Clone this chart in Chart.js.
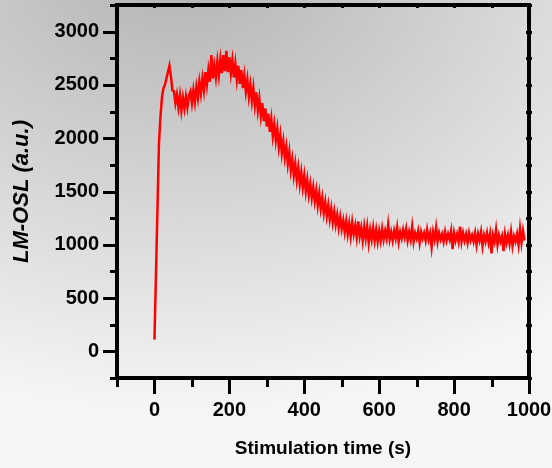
<!DOCTYPE html>
<html><head><meta charset="utf-8">
<script src="https://cdn.jsdelivr.net/npm/chart.js@4.4.1/dist/chart.umd.min.js"></script>
<style>html,body{margin:0;padding:0;background:#f4f4f4;overflow:hidden}#c{display:block}</style>
</head><body>
<canvas id="c" width="552" height="468"></canvas>
<script>
// Sampling interval of the LM-OSL record (seconds)
const STEP_S = 4;
// LM-OSL signal (a.u.), one value every STEP_S seconds from t = 0
const signal = [
 110, 720, 1330, 1950, 2200, 2380, 2470, 2500, 2560, 2620,
 2680, 2580, 2450, 2440, 2330, 2410, 2290, 2400, 2260, 2380,
 2280, 2390, 2290, 2400,
 2440, 2330, 2450, 2340, 2480, 2380, 2530, 2420, 2560, 2450,
 2620, 2500, 2640, 2530, 2780, 2560, 2680, 2570, 2720, 2590,
 2740, 2610, 2780, 2630, 2820, 2620, 2760, 2610, 2730, 2570,
 2700, 2550, 2680, 2510, 2640, 2470, 2590, 2440, 2550, 2390,
 2500, 2350, 2470, 2310, 2430, 2260, 2370, 2210, 2330, 2160,
 2280, 2110, 2230, 2060, 2180, 2020, 2130, 1980, 2090, 1920,
 2030, 1860, 1970, 1820, 1920, 1760, 1870, 1700, 1800, 1650,
 1760, 1610, 1720, 1570, 1680, 1540, 1650, 1500, 1610, 1470,
 1570, 1440, 1540, 1410, 1510, 1370, 1480, 1340, 1440, 1300,
 1400, 1270, 1370, 1240, 1340, 1210, 1310, 1190, 1280, 1160,
 1260, 1150,
 1230, 1120, 1220, 1100, 1200, 1080, 1210, 1100, 1180, 1070,
 1220, 1080, 1160, 1040, 1170, 1060, 1170, 1020, 1140, 1050,
 1160, 1040, 1140, 1030, 1130,
 1040, 1150, 1050, 1130, 1060, 1190, 1050, 1120, 1040, 1130,
 1060, 1160, 1030, 1120, 1060, 1140, 1070, 1150, 1040, 1120,
 1050, 1170, 1030, 1110, 1060, 1130, 1020, 1120, 1060, 1110,
 1040, 1140, 1050, 1110, 980, 1120, 1050, 1160, 1030, 1110,
 1050, 1100, 1030, 1120, 1040, 1100, 1050, 1130, 960, 1110,
 1040, 1100, 1030, 1170, 1030, 1110, 1040, 1100, 1020, 1110,
 1040, 1090, 1030, 1110, 1000, 1100, 1040, 1120, 990, 1090,
 1030, 1110, 1020, 1100, 920, 1090, 1030, 1140, 1000, 1090,
 1030, 1080, 940, 1100, 1020, 1090, 1010, 1120, 990, 1080,
 1030, 1100, 1000, 1150, 1020, 1130, 1040
];
const xTickLabels = [0, 200, 400, 600, 800, 1000];
const yTickLabels = [0, 500, 1000, 1500, 2000, 2500, 3000];
const xTitle = 'Stimulation time (s)';
const yTitle = 'LM-OSL (a.u.)';

const points = signal.map((v, i) => ({ x: i * STEP_S, y: v }));

const SANS = "'Liberation Sans', Arial, sans-serif";

const bgPlugin = {
  id: 'bg',
  beforeDraw(chart) {
    const { ctx } = chart;
    ctx.save();
    ctx.translate(180, -40);
    ctx.scale(600 / 450, 1);
    const g = ctx.createRadialGradient(0, 0, 0, 0, 0, 450);
    g.addColorStop(0, '#b2b2b2');
    g.addColorStop(1, '#f5f5f5');
    ctx.fillStyle = g;
    ctx.fillRect(-1000, -1000, 3000, 3000);
    ctx.restore();
  }
};

const framePlugin = {
  id: 'frame',
  afterDraw(chart) {
    const { ctx, chartArea: a, scales: { x, y } } = chart;
    ctx.save();
    ctx.strokeStyle = '#000';
    ctx.lineCap = 'butt';
    ctx.lineWidth = 3;
    y.ticks.forEach(t => {
      const py = Math.round(y.getPixelForValue(t.value)) + 0.5;
      const major = yTickLabels.includes(t.value);
      ctx.beginPath();
      ctx.moveTo(a.left, py);
      ctx.lineTo(a.left - (major ? 14 : 7), py);
      ctx.stroke();
      ctx.beginPath();
      ctx.moveTo(a.right - 3, py);
      ctx.lineTo(a.right + 3, py);
      ctx.stroke();
    });
    x.ticks.forEach(t => {
      const px = Math.round(x.getPixelForValue(t.value)) + 0.5;
      const major = xTickLabels.includes(t.value);
      ctx.beginPath();
      ctx.moveTo(px, a.bottom);
      ctx.lineTo(px, a.bottom + (major ? 16 : 9));
      ctx.stroke();
      ctx.beginPath();
      ctx.moveTo(px, a.top - 2);
      ctx.lineTo(px, a.top + 3);
      ctx.stroke();
    });
    ctx.lineWidth = 4;
    ctx.strokeRect(a.left, a.top, a.right - a.left, a.bottom - a.top);
    ctx.restore();
  }
};

function zeroPad(s) { s.paddingTop = 0; s.paddingBottom = 0; s.paddingLeft = 0; s.paddingRight = 0; }

new Chart(document.getElementById('c'), {
  type: 'line',
  data: {
    datasets: [{
      data: points,
      borderColor: '#ff0000',
      borderWidth: 2.5,
      pointRadius: 0,
      tension: 0,
      fill: false
    }]
  },
  options: {
    responsive: false,
    animation: false,
    events: [],
    layout: { padding: { top: 5, right: 23, left: 0, bottom: 0 } },
    plugins: { legend: { display: false }, tooltip: { enabled: false } },
    scales: {
      x: {
        type: 'linear',
        min: -100, max: 1000,
        afterFit(s) { s.height = 90; zeroPad(s); },
        grid: { display: false, drawTicks: false },
        border: { display: false },
        ticks: {
          stepSize: 100, autoSkip: false, maxRotation: 0, padding: 20,
          color: '#000',
          font: { family: SANS, size: 20, weight: 'bold' },
          callback: v => xTickLabels.includes(v) ? String(v) : ''
        },
        title: {
          display: true, text: xTitle, color: '#000',
          font: { family: SANS, size: 19, weight: 'bold' },
          padding: { top: 0, bottom: 8 }
        }
      },
      y: {
        type: 'linear',
        min: -250, max: 3250,
        afterFit(s) { s.width = 117; zeroPad(s); },
        grid: { display: false, drawTicks: false },
        border: { display: false },
        ticks: {
          stepSize: 250, autoSkip: false, padding: 18,
          color: '#000',
          font: { family: SANS, size: 20, weight: 'bold' },
          callback: v => yTickLabels.includes(v) ? String(v) : ''
        },
        title: {
          display: true, text: yTitle, color: '#000',
          font: { family: SANS, size: 22, weight: 'bold', style: 'italic' },
          padding: { top: 9, bottom: 0 }
        }
      }
    }
  },
  plugins: [bgPlugin, framePlugin]
});
</script>
</body></html>
